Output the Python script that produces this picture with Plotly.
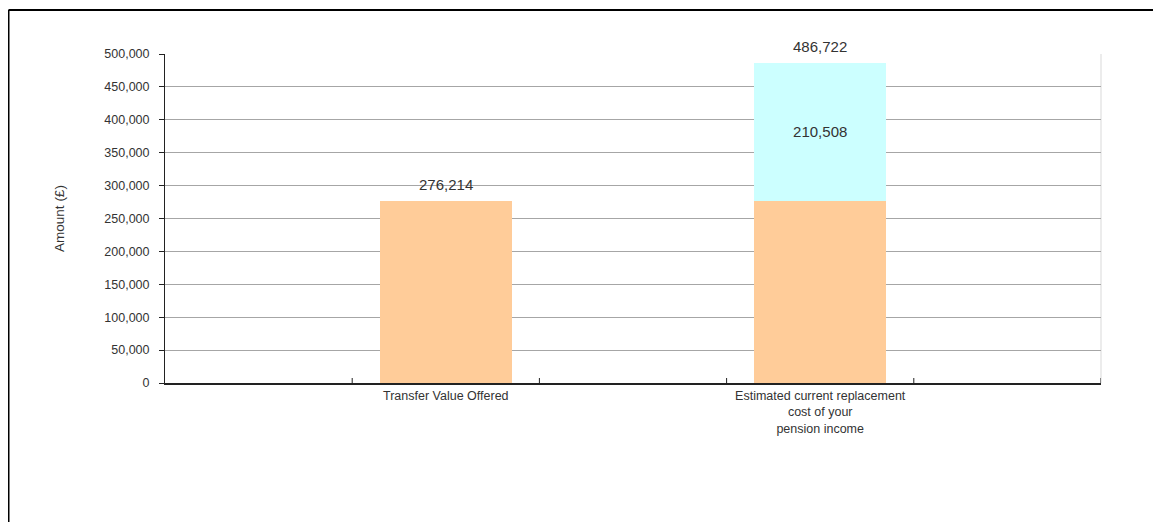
"""Transfer value vs replacement cost bar chart."""

import plotly.graph_objects as go

# Data
CATEGORY_POSITIONS = [1, 3]
CATEGORY_LABELS = [
    "Transfer Value Offered",
    "Estimated current replacement<br>cost of your<br>pension income",
]
TRANSFER_VALUE = [276214, 276214]
EXTRA_COST = [0, 210508]
N_SLOTS = 5
Y_TICKS = list(range(0, 500001, 50000))

# Styling
COLOR_ORANGE = "#ffcc99"
COLOR_CYAN = "#ccffff"
COLOR_TEXT = "#333333"
COLOR_GRID = "#a6a6a6"
FONT = "Liberation Sans, Arial, sans-serif"

# page body has an 8px margin, so the figure is a bit smaller than the window
WIDTH, HEIGHT = 1153, 514
MARGIN = dict(l=157, r=60, t=46, b=139)


def _px_to_paper(px, py):
    """Convert figure pixels to paper coords (for the outer frame only)."""
    pw = WIDTH - MARGIN["l"] - MARGIN["r"]
    ph = HEIGHT - MARGIN["t"] - MARGIN["b"]
    return (px - MARGIN["l"]) / pw, (HEIGHT - MARGIN["b"] - py) / ph


fig = go.Figure()

fig.add_trace(
    go.Bar(
        x=CATEGORY_POSITIONS,
        y=TRANSFER_VALUE,
        marker=dict(color=COLOR_ORANGE, line=dict(width=0)),
        width=0.705,
        hoverinfo="y",
    )
)
fig.add_trace(
    go.Bar(
        x=CATEGORY_POSITIONS,
        y=EXTRA_COST,
        marker=dict(color=COLOR_CYAN, line=dict(width=0)),
        width=0.705,
        text=[f"{v:,}" if v else "" for v in EXTRA_COST],
        textposition="inside",
        insidetextanchor="middle",
        textfont=dict(size=15, color=COLOR_TEXT, family=FONT),
        hoverinfo="y",
    )
)

# Totals above each bar
for x, a, b in zip(CATEGORY_POSITIONS, TRANSFER_VALUE, EXTRA_COST):
    total = a + b
    fig.add_annotation(
        x=x, y=total, text=f"{total:,}", showarrow=False,
        yanchor="bottom", yshift=6,
        font=dict(size=15, color=COLOR_TEXT, family=FONT),
    )

shapes = []
# category boundary ticks crossing the x axis
for i in range(N_SLOTS):
    shapes.append(dict(
        type="line", xref="x", yref="y", x0=i + 0.5, x1=i + 0.5,
        ysizemode="pixel", yanchor=0, y0=-6, y1=5,
        line=dict(color="#222222", width=1),
    ))
# faint right edge of plot area
shapes.append(dict(
    type="line", xref="paper", yref="paper", x0=1, x1=1, y0=0, y1=1,
    line=dict(color="#d9d9d9", width=1), layer="below",
))
# outer frame (top and left only)
fx0, fy0 = _px_to_paper(0.5, 2)
fx1, fy1 = _px_to_paper(WIDTH + 5, HEIGHT + 5)
shapes.append(dict(type="line", xref="paper", yref="paper",
                   x0=fx0, x1=fx1, y0=fy0, y1=fy0, line=dict(color="black", width=2)))
shapes.append(dict(type="line", xref="paper", yref="paper",
                   x0=fx0, x1=fx0, y0=fy0, y1=fy1, line=dict(color="black", width=2)))

fig.update_layout(
    width=WIDTH,
    height=HEIGHT,
    margin=MARGIN,
    barmode="stack",
    showlegend=False,
    plot_bgcolor="white",
    paper_bgcolor="white",
    font=dict(family=FONT, size=12, color=COLOR_TEXT),
    shapes=shapes,
    xaxis=dict(
        range=[-0.5, N_SLOTS - 0.5],
        tickvals=CATEGORY_POSITIONS,
        ticktext=CATEGORY_LABELS,
        ticks="",
        tickfont=dict(size=12.5, color=COLOR_TEXT),
        showgrid=False,
        zeroline=False,
        showline=True,
        linecolor="#222222",
        linewidth=2,
        fixedrange=True,
    ),
    yaxis=dict(
        range=[0, 500000],
        tickvals=Y_TICKS,
        tickformat=",",
        ticks="outside",
        ticklen=5,
        tickcolor="#222222",
        ticklabelstandoff=7,
        tickfont=dict(size=12.5, color=COLOR_TEXT),
        showgrid=True,
        gridcolor=COLOR_GRID,
        gridwidth=1,
        zeroline=False,
        showline=True,
        linecolor="#222222",
        linewidth=1,
        title=dict(text="Amount (£)", font=dict(size=13.5, color=COLOR_TEXT), standoff=36),
        fixedrange=True,
    ),
)

fig.write_html("out.html")
